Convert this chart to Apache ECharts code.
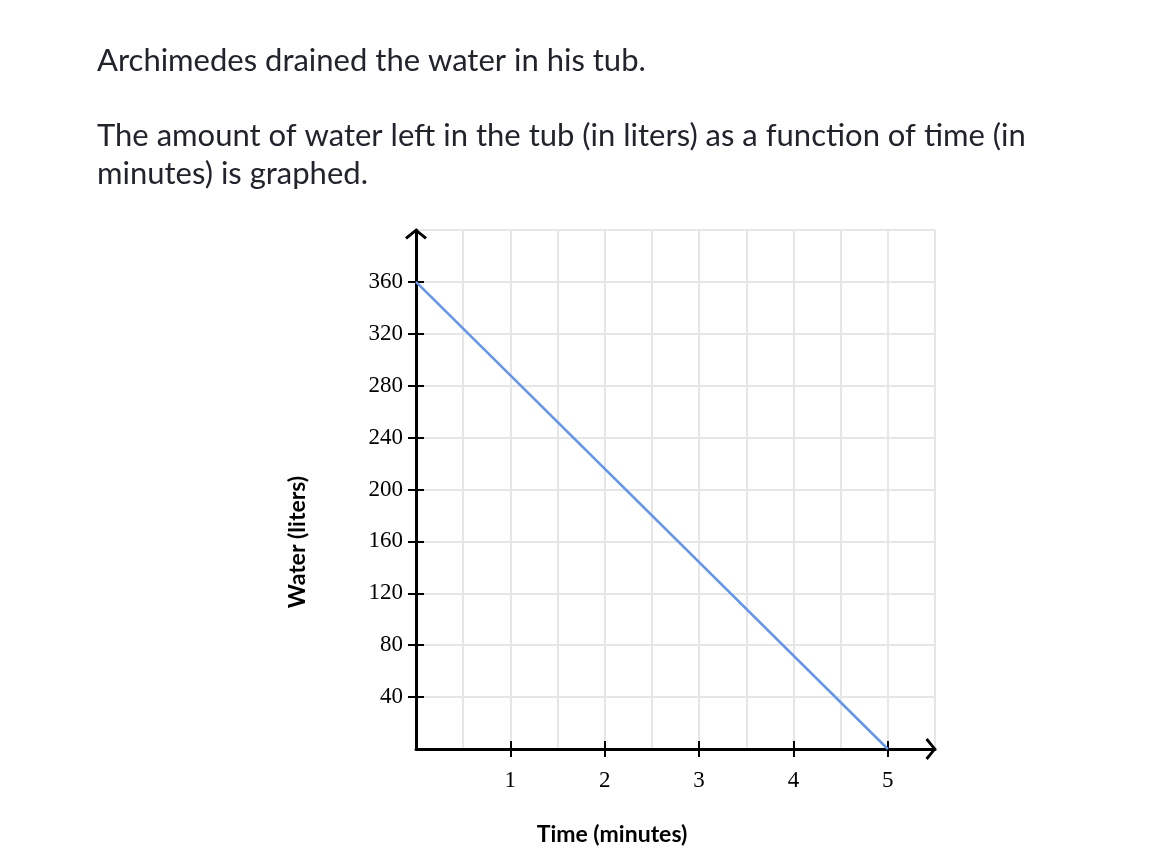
<!DOCTYPE html>
<html>
<head>
<meta charset="utf-8">
<script src="https://cdn.jsdelivr.net/npm/echarts@6/dist/echarts.min.js"></script>
<style>
  html, body { margin: 0; padding: 0; background: #fff; }
  #chart { width: 1151px; height: 868px; }
</style>
</head>
<body>
<div id="chart"></div>
<script>
// water left in the tub over time
const timeValues = [0, 5];
const waterValues = [360, 0];

// labelled ticks
const xTickValues = [1, 2, 3, 4, 5];
const yTickValues = [40, 80, 120, 160, 200, 240, 280, 320, 360];

const questionLines = [
  'Archimedes drained the water in his tub.',
  'The amount of water left in the tub (in liters) as a function of time (in',
  'minutes) is graphed.'
];
const xName = 'Time (minutes)';
const yName = 'Water (liters)';

const chart = echarts.init(document.getElementById('chart'));

const arrowPath = 'path://M50 0L100 40L91 50L50 16L9 50L0 40Z';
const axisColor = '#000';
const gridColor = '#e6e6e6';
const tickFont = 'Liberation Serif';
const textFont = '31px Lato';

function mainAxisLine() {
  return {
    show: true,
    symbol: ['none', arrowPath],
    symbolSize: [22, 11],
    symbolOffset: [0, -4],
    lineStyle: { color: axisColor, width: 3 }
  };
}

// an axis that only draws grid lines
function gridAxis(max, interval) {
  return {
    type: 'value', min: 0, max: max, interval: interval,
    axisLine: { show: false }, axisTick: { show: false }, axisLabel: { show: false },
    splitLine: { show: true, lineStyle: { color: gridColor, width: 2 } },
    z: 0
  };
}

const option = {
  backgroundColor: '#fff',
  animation: false,
  graphic: [
    { type: 'text', left: 97, top: 45, style: { text: questionLines[0], font: textFont, fill: '#21242c' } },
    { type: 'text', left: 97, top: 120, style: { text: questionLines[1], font: textFont, fill: '#21242c' } },
    { type: 'text', left: 97, top: 158, style: { text: questionLines[2], font: textFont, fill: '#21242c' } },
    { type: 'text', x: 612, y: 835, style: { text: xName, font: 'bold 23px Lato', fill: '#000', align: 'center', verticalAlign: 'middle' } },
    { type: 'text', x: 298, y: 542, rotation: Math.PI / 2, style: { text: yName, font: 'bold 23px Lato', fill: '#000', align: 'center', verticalAlign: 'middle' } }
  ],
  grid: {
    left: 416, top: 230, right: 216, bottom: 119,
    containLabel: false, outerBoundsMode: 'none'
  },
  xAxis: [{
    type: 'value',
    min: 0, max: 5.5, interval: 0.5,
    axisLine: mainAxisLine(),
    axisTick: { show: true, customValues: xTickValues, length: 8, lineStyle: { color: axisColor, width: 2 } },
    axisLabel: { customValues: xTickValues, margin: 20, fontFamily: tickFont, fontSize: 23, color: '#000' },
    splitLine: { show: false }
  }, {
    type: 'value', position: 'bottom', offset: 0,
    min: 0, max: 5.5, interval: 0.5,
    axisLine: { show: false },
    axisTick: { show: true, inside: true, customValues: xTickValues, length: 8, lineStyle: { color: axisColor, width: 2 } },
    axisLabel: { show: false },
    splitLine: { show: false }
  }, gridAxis(5.5, 0.5)],
  yAxis: [{
    type: 'value',
    position: 'left',
    min: 0, max: 400, interval: 40,
    axisLine: mainAxisLine(),
    axisTick: { show: true, customValues: yTickValues, length: 8, lineStyle: { color: axisColor, width: 2 } },
    axisLabel: { customValues: yTickValues, margin: 13, fontFamily: tickFont, fontSize: 23, color: '#000' },
    splitLine: { show: false }
  }, {
    type: 'value', position: 'left', offset: 0,
    min: 0, max: 400, interval: 40,
    axisLine: { show: false },
    axisTick: { show: true, inside: true, customValues: yTickValues, length: 8, lineStyle: { color: axisColor, width: 2 } },
    axisLabel: { show: false },
    splitLine: { show: false }
  }, gridAxis(400, 40)],
  series: [{
    type: 'line',
    xAxisIndex: 0,
    yAxisIndex: 0,
    data: timeValues.map((t, i) => [t, waterValues[i]]),
    showSymbol: false,
    clip: false,
    lineStyle: { color: '#6495ed', width: 2.5 },
    z: 3
  }]
};

chart.setOption(option);
</script>
</body>
</html>
